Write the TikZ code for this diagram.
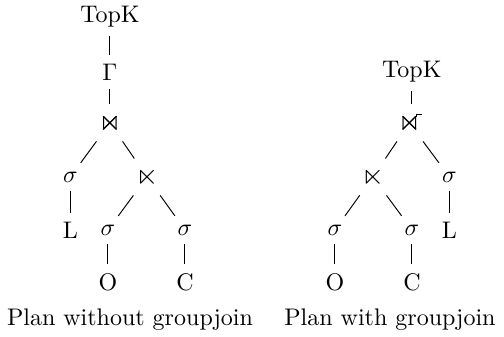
\documentclass[tikz,border=0pt]{standalone}
\usepackage{amssymb}
\newcommand{\opsym}[1]{{\large$#1$}}
\begin{document}
\begin{tikzpicture}[edge/.style={shorten <=0.2pt, shorten >=0.2pt}]
            \useasboundingbox (0,0) rectangle (7.38,-4.934);
            % plan without groupjoin
            \node (topA) at (1.61,-0.249) {TopK};
            \node (gamA) at (1.61,-1.054) {$\Gamma$};
            \node (joinA) at (1.61,-1.801) {\opsym{\Join}};
            \node (selL) at (1.03,-2.591) {$\sigma$};
            \node (semiA) at (2.152,-2.591) {\opsym{\ltimes}};
            \node (relL) at (1.03,-3.367) {L};
            \node (selO) at (1.581,-3.367) {$\sigma$};
            \node (selC) at (2.708,-3.367) {$\sigma$};
            \node (relO) at (1.581,-4.128) {O};
            \node (relC) at (2.708,-4.128) {C};
            \node (capA) at (1.903,-4.685) {Plan without groupjoin};
            \foreach \a/\b in {topA/gamA, gamA/joinA, joinA/selL, joinA/semiA, selL/relL,
                semiA/selO, semiA/selC, selO/relO, selC/relC}
                \draw[edge] (\a) -- (\b);
            % plan with groupjoin
            \node (topB) at (6.03,-1.054) {TopK};
            \node (gjoin) at (5.995,-1.801) {\opsym{\Join}};
            \draw ([shift={(3pt,2.4pt)}]gjoin.center) |- ([shift={(5.2pt,3.6pt)}]gjoin.center);
            \node (semiB) at (5.461,-2.591) {\opsym{\ltimes}};
            \node (selR) at (6.58,-2.591) {$\sigma$};
            \node (selOB) at (4.904,-3.367) {$\sigma$};
            \node (selCB) at (6.032,-3.367) {$\sigma$};
            \node (relLB) at (6.58,-3.367) {L};
            \node (relOB) at (4.904,-4.128) {O};
            \node (relCB) at (6.032,-4.128) {C};
            \node (capB) at (5.71,-4.685) {Plan with groupjoin};
            \draw[edge] (topB) -- (topB |- gjoin.north);
            \foreach \a/\b in {gjoin/semiB, gjoin/selR, selR/relLB,
                semiB/selOB, semiB/selCB, selOB/relOB, selCB/relCB}
                \draw[edge] (\a) -- (\b);
        \end{tikzpicture}
\end{document}
